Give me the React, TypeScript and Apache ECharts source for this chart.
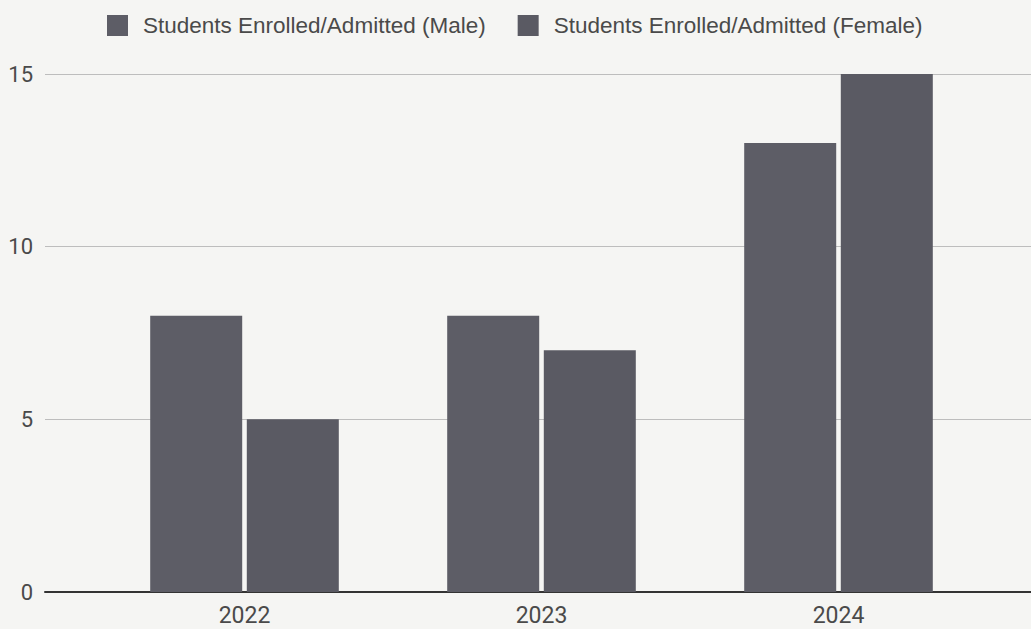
import React, { useEffect, useRef } from "react";
import * as echarts from "echarts";

const categories = ["2022", "2023", "2024"];
const maleValues = [8, 8, 13];
const femaleValues = [5, 7, 15];
const seriesNames = ["Students Enrolled/Admitted (Male)", "Students Enrolled/Admitted (Female)"];
const yTicks = { min: 0, max: 15, interval: 5 };

export default function App() {
  const ref = useRef<HTMLDivElement>(null);
  useEffect(() => {
    document.body.style.margin = "0";
    const chart = echarts.init(ref.current!, null, { renderer: "svg" });
    const axisFont = { fontFamily: "Roboto", fontSize: 22, color: "#4a4a4a" };
    chart.setOption({
      animation: false,
      backgroundColor: "#f5f5f3",
      legend: {
        left: 102,
        top: 9,
        itemWidth: 21,
        itemHeight: 21,
        itemGap: 32,
        icon: "rect",
        textStyle: { fontFamily: "Liberation Sans", fontSize: 22.5, color: "#4a4a4a", padding: [0, 0, 0, 10] },
        data: seriesNames,
      },
      grid: [
        { left: 45, right: 0, top: 74, bottom: 37 },
        { left: 96, right: 44, top: 74, bottom: 37 },
      ],
      xAxis: [
        {
          type: "category",
          gridIndex: 0,
          data: categories,
          axisLine: { show: true, lineStyle: { color: "#333", width: 2 } },
          axisTick: { show: false },
          axisLabel: { show: false },
        },
        {
          type: "category",
          gridIndex: 1,
          data: categories,
          axisLine: { show: false },
          axisTick: { show: false },
          axisLabel: { ...axisFont, fontSize: 23, margin: 12 },
        },
      ],
      yAxis: [
        {
          type: "value",
          gridIndex: 0,
          ...yTicks,
          axisLine: { show: false },
          axisTick: { show: false },
          axisLabel: { ...axisFont, margin: 12 },
          splitLine: { lineStyle: { color: "#bdbdbd", width: 1 } },
        },
        {
          type: "value",
          gridIndex: 1,
          ...yTicks,
          show: false,
          splitLine: { show: false },
        },
      ],
      series: [
        {
          name: seriesNames[0],
          type: "bar",
          xAxisIndex: 1,
          yAxisIndex: 1,
          data: maleValues,
          barWidth: 92,
          barGap: "5%",
          itemStyle: { color: "#5d5d66" },
        },
        {
          name: seriesNames[1],
          type: "bar",
          xAxisIndex: 1,
          yAxisIndex: 1,
          data: femaleValues,
          barWidth: 92,
          barGap: "5%",
          itemStyle: { color: "#5a5a63" },
        },
      ],
    });
    return () => chart.dispose();
  }, []);
  return <div ref={ref} style={{ width: 1031, height: 629 }} />;
}
